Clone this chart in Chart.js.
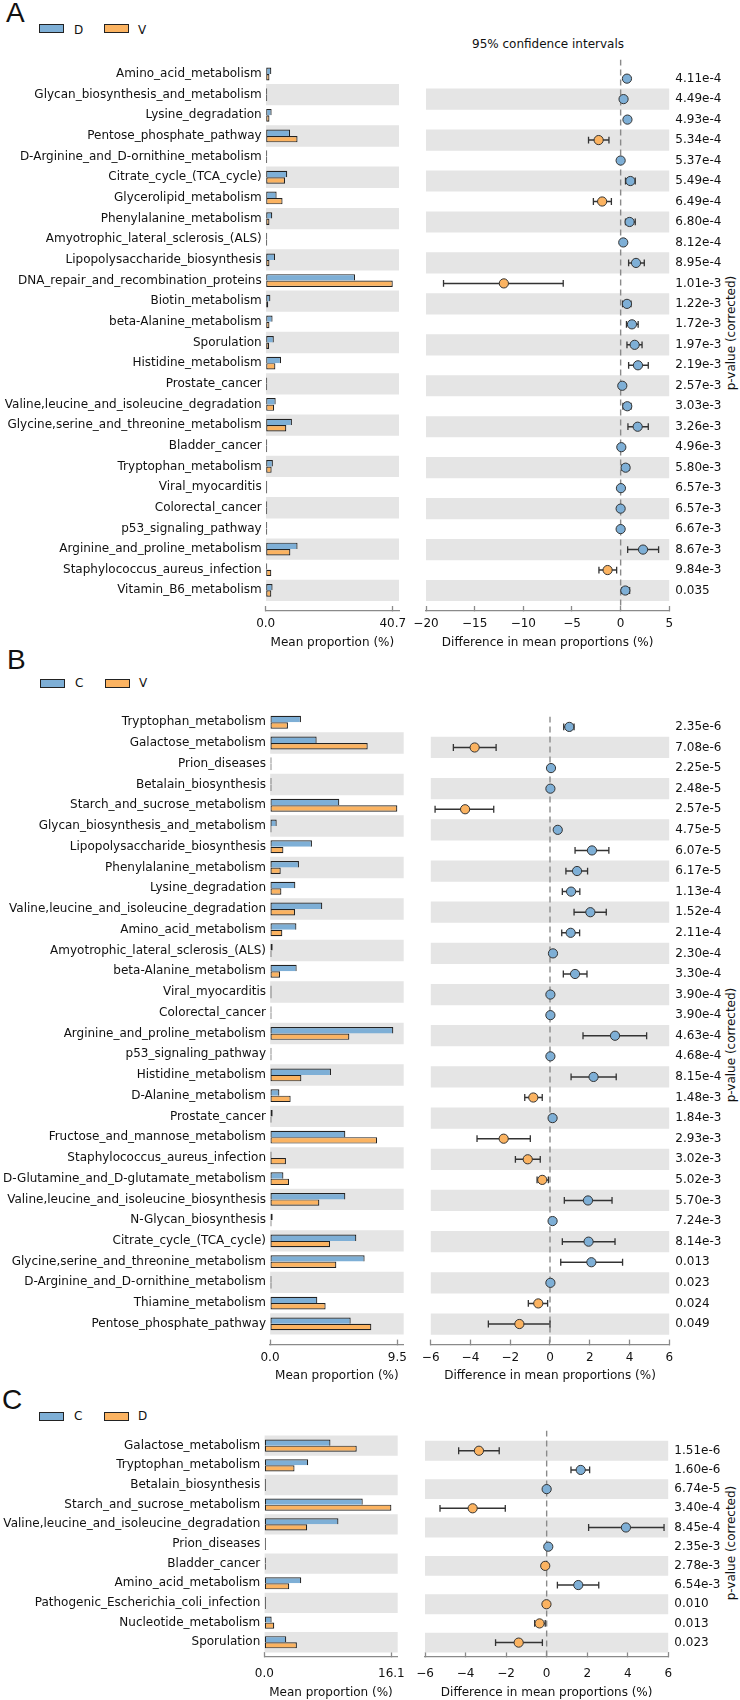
<!DOCTYPE html>
<html>
<head>
<meta charset="utf-8">
<script src="https://cdn.jsdelivr.net/npm/chart.js@4.4.1/dist/chart.umd.min.js"></script>
<style>
  html, body { margin: 0; padding: 0; background: #fff; }
  body { width: 740px; height: 1700px; position: relative; overflow: hidden; font-family: 'DejaVu Sans', sans-serif; color: #111; }
  canvas { position: absolute; }
  .letter { position: absolute; font-family: 'Liberation Sans', sans-serif; font-size: 28px; line-height: 28px; color: #111; }
  .txt { position: absolute; font-size: 12px; line-height: 14px; white-space: nowrap; }
  .swatch { position: absolute; width: 25px; height: 9px; box-sizing: border-box; border: 1.3px solid #222; }
  .ylab { position: absolute; font-size: 12px; line-height: 14px; white-space: nowrap; transform: translate(-50%, -50%) rotate(-90deg); }
</style>
</head>
<body>

<div class="letter" style="left:6px;top:-1px">A</div>
<div class="swatch" style="left:39px;top:24px;background:#7eafd6"></div>
<div class="txt" style="left:74px;top:22.5px">D</div>
<div class="swatch" style="left:104px;top:24px;background:#fbb361"></div>
<div class="txt" style="left:138px;top:22.5px">V</div>
<div class="txt" style="left:548px;top:36.5px;transform:translateX(-50%)">95% confidence intervals</div>
<div class="ylab" style="left:731px;top:333px">p-value (corrected)</div>

<div class="letter" style="left:7px;top:646px">B</div>
<div class="swatch" style="left:40px;top:678.5px;background:#7eafd6"></div>
<div class="txt" style="left:75px;top:676px">C</div>
<div class="swatch" style="left:105px;top:678.5px;background:#fbb361"></div>
<div class="txt" style="left:139px;top:676px">V</div>
<div class="ylab" style="left:731px;top:1045px">p-value (corrected)</div>

<div class="letter" style="left:2px;top:1386px">C</div>
<div class="swatch" style="left:39px;top:1411.5px;background:#7eafd6"></div>
<div class="txt" style="left:74px;top:1409px">C</div>
<div class="swatch" style="left:104px;top:1411.5px;background:#fbb361"></div>
<div class="txt" style="left:138px;top:1409px">D</div>
<div class="ylab" style="left:731px;top:1543px">p-value (corrected)</div>

<script>
// ---- Panel A: D vs V ----
const catsA = ['Amino_acid_metabolism', 'Glycan_biosynthesis_and_metabolism', 'Lysine_degradation',
  'Pentose_phosphate_pathway', 'D-Arginine_and_D-ornithine_metabolism', 'Citrate_cycle_(TCA_cycle)',
  'Glycerolipid_metabolism', 'Phenylalanine_metabolism', 'Amyotrophic_lateral_sclerosis_(ALS)',
  'Lipopolysaccharide_biosynthesis', 'DNA_repair_and_recombination_proteins', 'Biotin_metabolism',
  'beta-Alanine_metabolism', 'Sporulation', 'Histidine_metabolism', 'Prostate_cancer',
  'Valine,leucine_and_isoleucine_degradation', 'Glycine,serine_and_threonine_metabolism', 'Bladder_cancer',
  'Tryptophan_metabolism', 'Viral_myocarditis', 'Colorectal_cancer', 'p53_signaling_pathway',
  'Arginine_and_proline_metabolism', 'Staphylococcus_aureus_infection', 'Vitamin_B6_metabolism'];
const pvalA = ['4.11e-4', '4.49e-4', '4.93e-4', '5.34e-4', '5.37e-4', '5.49e-4', '6.49e-4', '6.80e-4', '8.12e-4',
  '8.95e-4', '1.01e-3', '1.22e-3', '1.72e-3', '1.97e-3', '2.19e-3', '2.57e-3', '3.03e-3', '3.26e-3', '4.96e-3',
  '5.80e-3', '6.57e-3', '6.57e-3', '6.67e-3', '8.67e-3', '9.84e-3', '0.035'];
const meanDA = [1.8, 0.4, 1.9, 7.8, 0.1, 6.9, 3.5, 2.1, 0.3, 3.0, 28.6, 1.5, 2.2, 2.6, 4.9, 0.2, 3.2, 8.4, 0.2, 2.3, 0.1, 0.1, 0.1, 10.2, 0.2, 2.2];
const meanVA = [1.2, 0.3, 1.2, 10.2, 0.1, 6.2, 5.4, 1.2, 0.3, 1.2, 40.7, 0.8, 1.2, 1.1, 3.1, 0.2, 2.7, 6.6, 0.2, 1.9, 0.1, 0.1, 0.1, 7.9, 1.8, 1.8];
const diffA = [0.65, 0.3, 0.7, -2.26, 0.0, 1.0, -1.9, 0.92, 0.27, 1.58, -12.0, 0.65, 1.16, 1.44, 1.78, 0.17, 0.68, 1.75, 0.07, 0.51, 0.03, 0.0, 0.0, 2.3, -1.34, 0.48];
const ciLowA = [0.5, 0.15, 0.55, -3.3, -0.05, 0.5, -2.8, 0.5, 0.15, 0.82, -18.2, 0.2, 0.6, 0.65, 0.82, 0.05, 0.24, 0.75, 0.0, 0.14, 0.0, -0.05, -0.05, 0.72, -2.23, 0.1];
const ciHighA = [0.8, 0.45, 0.85, -1.2, 0.05, 1.5, -0.95, 1.5, 0.4, 2.43, -5.9, 1.06, 1.8, 2.2, 2.84, 0.3, 1.06, 2.84, 0.15, 0.86, 0.08, 0.05, 0.05, 3.9, -0.41, 0.92];
const barTicksA = [0, 40.7];
const diffTicksA = [-20, -15, -10, -5, 0, 5];

// ---- Panel B: C vs V ----
const catsB = ['Tryptophan_metabolism', 'Galactose_metabolism', 'Prion_diseases', 'Betalain_biosynthesis',
  'Starch_and_sucrose_metabolism', 'Glycan_biosynthesis_and_metabolism', 'Lipopolysaccharide_biosynthesis',
  'Phenylalanine_metabolism', 'Lysine_degradation', 'Valine,leucine_and_isoleucine_degradation',
  'Amino_acid_metabolism', 'Amyotrophic_lateral_sclerosis_(ALS)', 'beta-Alanine_metabolism', 'Viral_myocarditis',
  'Colorectal_cancer', 'Arginine_and_proline_metabolism', 'p53_signaling_pathway', 'Histidine_metabolism',
  'D-Alanine_metabolism', 'Prostate_cancer', 'Fructose_and_mannose_metabolism', 'Staphylococcus_aureus_infection',
  'D-Glutamine_and_D-glutamate_metabolism', 'Valine,leucine_and_isoleucine_biosynthesis', 'N-Glycan_biosynthesis',
  'Citrate_cycle_(TCA_cycle)', 'Glycine,serine_and_threonine_metabolism', 'D-Arginine_and_D-ornithine_metabolism',
  'Thiamine_metabolism', 'Pentose_phosphate_pathway'];
const pvalB = ['2.35e-6', '7.08e-6', '2.25e-5', '2.48e-5', '2.57e-5', '4.75e-5', '6.07e-5', '6.17e-5', '1.13e-4',
  '1.52e-4', '2.11e-4', '2.30e-4', '3.30e-4', '3.90e-4', '3.90e-4', '4.63e-4', '4.68e-4', '8.15e-4', '1.48e-3',
  '1.84e-3', '2.93e-3', '3.02e-3', '5.02e-3', '5.70e-3', '7.24e-3', '8.14e-3', '0.013', '0.023', '0.024', '0.049'];
const meanCB = [2.31, 3.48, 0.08, 0.03, 5.17, 0.5, 3.13, 2.16, 1.89, 3.9, 1.97, 0.2, 1.99, 0.03, 0.03, 9.2, 0.03, 4.55, 0.7, 0.2, 5.62, 0.07, 1.0, 5.62, 0.2, 6.44, 7.06, 0.02, 3.53, 6.02];
const meanVB = [1.34, 7.29, 0.03, 0.02, 9.5, 0.1, 1.0, 0.8, 0.85, 1.87, 0.92, 0.08, 0.75, 0.02, 0.02, 5.92, 0.02, 2.34, 1.54, 0.05, 7.99, 1.19, 1.42, 3.68, 0.05, 4.48, 4.95, 0.02, 4.15, 7.56];
const diffB = [0.97, -3.79, 0.05, 0.02, -4.27, 0.39, 2.11, 1.36, 1.06, 2.03, 1.04, 0.15, 1.26, 0.02, 0.02, 3.27, 0.02, 2.19, -0.84, 0.13, -2.33, -1.12, -0.39, 1.91, 0.13, 1.94, 2.08, 0.02, -0.59, -1.54];
const ciLowB = [0.69, -4.86, 0.02, 0.0, -5.78, 0.33, 1.26, 0.8, 0.62, 1.21, 0.59, 0.12, 0.67, 0.0, 0.0, 1.66, 0.0, 1.06, -1.27, 0.1, -3.67, -1.74, -0.65, 0.72, 0.1, 0.62, 0.54, 0.0, -1.09, -3.1];
const ciHighB = [1.21, -2.71, 0.08, 0.04, -2.83, 0.45, 2.96, 1.89, 1.5, 2.83, 1.49, 0.18, 1.86, 0.04, 0.04, 4.86, 0.04, 3.33, -0.39, 0.16, -0.99, -0.49, -0.08, 3.12, 0.16, 3.27, 3.65, 0.04, -0.12, 0.0];
const barTicksB = [0, 9.5];
const diffTicksB = [-6, -4, -2, 0, 2, 4, 6];

// ---- Panel C: C vs D ----
const catsC = ['Galactose_metabolism', 'Tryptophan_metabolism', 'Betalain_biosynthesis', 'Starch_and_sucrose_metabolism',
  'Valine,leucine_and_isoleucine_degradation', 'Prion_diseases', 'Bladder_cancer', 'Amino_acid_metabolism',
  'Pathogenic_Escherichia_coli_infection', 'Nucleotide_metabolism', 'Sporulation'];
const pvalC = ['1.51e-6', '1.60e-6', '6.74e-5', '3.40e-4', '8.45e-4', '2.35e-3', '2.78e-3', '6.54e-3', '0.010', '0.013', '0.023'];
const meanCC = [8.38, 5.56, 0.03, 12.47, 9.39, 0.1, 0.08, 4.68, 0.02, 0.93, 2.78];
const meanDC = [11.71, 3.83, 0.02, 16.1, 5.43, 0.05, 0.08, 3.16, 0.02, 1.26, 4.13];
const diffC = [-3.34, 1.68, 0.0, -3.65, 3.91, 0.08, -0.07, 1.56, -0.01, -0.35, -1.38];
const ciLowC = [-4.34, 1.2, -0.02, -5.26, 2.07, 0.06, -0.09, 0.53, -0.03, -0.59, -2.52];
const ciHighC = [-2.34, 2.12, 0.02, -2.04, 5.79, 0.1, -0.05, 2.57, 0.01, -0.07, -0.21];
const barTicksC = [0, 16.1];
const diffTicksC = [-6, -4, -2, 0, 2, 4, 6];

const BLUE = '#7eafd6';
const ORANGE = '#fbb361';
const EDGE = '#222222';
const BAND = '#e5e5e5';
const AXIS = '#8a8a8a';
const AXIS_H = 46;

Chart.defaults.font.family = "'DejaVu Sans', sans-serif";
Chart.defaults.font.size = 12;
Chart.defaults.color = '#111';

function addCanvas(left, top, w, h) {
    const c = document.createElement('canvas');
    c.width = w;
    c.height = h;
    c.style.left = left + 'px';
    c.style.top = top + 'px';
    c.style.width = w + 'px';
    c.style.height = h + 'px';
    document.body.appendChild(c);
    return c.getContext('2d');
}

const minus = v => v < 0 ? '\u2212' + Math.abs(v) : String(v);

function rowAxis(p, rows, labels, position, width, pad) {
    return {
        type: 'linear', position, reverse: true, offset: false, bounds: 'data',
        min: p.yMin, max: p.yMax,
        afterBuildTicks: s => { s.ticks = rows.map(v => ({ value: v })); },
        afterFit: s => { s.width = width; s.paddingTop = 0; s.paddingBottom = 0; },
        grid: { display: false, drawTicks: false },
        border: { display: false },
        ticks: { autoSkip: false, padding: pad, callback: v => labels[v] }
    };
}

function valueAxis(p, min, max, tickVals, fmt, title) {
    return {
        type: 'linear', position: 'bottom', bounds: 'data', min, max,
        afterBuildTicks: s => { s.ticks = tickVals.map(v => ({ value: v })); },
        afterFit: s => { s.height = AXIS_H; s.paddingLeft = 0; s.paddingRight = 0; },
        grid: { display: true, drawOnChartArea: false, drawTicks: true, tickLength: -5, tickColor: AXIS, tickWidth: 1.3 },
        border: { display: true, color: AXIS, width: 1.3 },
        ticks: { autoSkip: false, maxRotation: 0, padding: p.tickPad, callback: fmt },
        title: { display: true, text: title, padding: { top: 0, bottom: p.titlePad } }
    };
}

function buildPanel(p) {
    const n = p.cats.length;
    const rows = p.cats.map((_, i) => i);
    const banded = rows.filter(i => (n - 1 - i) % 2 === 0);
    const canvasTop = Math.floor(p.top);
    const canvasH = Math.ceil(p.bottom - canvasTop) + AXIS_H;
    const padTop = p.top - canvasTop;
    const padBottom = canvasH - AXIS_H - (p.bottom - canvasTop);

    // left: mean proportions
    const barW = Math.ceil(p.barRight) + 20;
    new Chart(addCanvas(0, canvasTop, barW, canvasH), {
        type: 'bar',
        data: {
            datasets: [
                {
                    data: rows.map(i => ({ y: i, x: p.mean1[i] })),
                    backgroundColor: BLUE, borderColor: EDGE, borderWidth: 1.2, borderSkipped: 'bottom',
                    minBarLength: 1.5, categoryPercentage: 0.62, barPercentage: 1, order: 1
                },
                {
                    data: rows.map(i => ({ y: i, x: p.mean2[i] })),
                    backgroundColor: ORANGE, borderColor: EDGE, borderWidth: 1.2, borderSkipped: false,
                    minBarLength: 1.5, categoryPercentage: 0.62, barPercentage: 1, order: 1
                },
                {
                    data: banded.map(i => ({ y: i, x: [0, p.barMax] })),
                    backgroundColor: BAND, borderWidth: 0, grouped: false,
                    categoryPercentage: 1, barPercentage: 1, order: 9
                }
            ]
        },
        options: {
            indexAxis: 'y', responsive: false, devicePixelRatio: 1, animation: false, events: [],
            layout: { padding: { top: padTop, bottom: padBottom, left: 0, right: barW - p.barRight } },
            plugins: { legend: { display: false }, tooltip: { enabled: false } },
            scales: {
                x: valueAxis(p, 0, p.barMax, p.barTicks, v => v.toFixed(1), 'Mean proportion (%)'),
                y: rowAxis(p, rows, p.cats, 'left', p.barLeft, 4)
            }
        }
    });

    // right: difference in mean proportions with 95% CI
    const dotCanvasLeft = Math.floor(p.dotLeft) - 20;
    const dotW = 740 - dotCanvasLeft;
    new Chart(addCanvas(dotCanvasLeft, canvasTop, dotW, canvasH), {
        type: 'bar',
        data: {
            datasets: [
                {
                    type: 'bar', data: banded.map(i => ({ y: i, x: [p.dMin, p.dMax] })),
                    backgroundColor: BAND, borderWidth: 0, grouped: false,
                    categoryPercentage: 1, barPercentage: 1, order: 9
                },
                {
                    type: 'line', data: [{ x: 0, y: p.yMin }, { x: 0, y: p.yMax }],
                    borderColor: AXIS, borderWidth: 1.4, borderDash: [6, 4], pointRadius: 0, order: 8
                },
                {
                    type: 'bar', data: rows.map(i => ({ y: i, x: [p.lo[i], p.hi[i]] })),
                    backgroundColor: '#333', borderWidth: 0, grouped: false, maxBarThickness: 1.5, order: 7
                },
                {
                    type: 'line', showLine: false,
                    data: rows.flatMap(i => [{ x: p.lo[i], y: i }, { x: p.hi[i], y: i }]),
                    pointStyle: 'line', pointRotation: 90, pointRadius: 3.4,
                    pointBorderColor: '#333', pointBorderWidth: 1.3, order: 6
                },
                {
                    type: 'line', showLine: false, clip: false,
                    data: rows.map(i => ({ x: p.diff[i], y: i })),
                    pointRadius: 4.6,
                    pointBackgroundColor: rows.map(i => p.diff[i] < 0 ? ORANGE : BLUE),
                    pointBorderColor: '#333', pointBorderWidth: 1, order: 1
                }
            ]
        },
        options: {
            indexAxis: 'y', responsive: false, devicePixelRatio: 1, animation: false, events: [],
            layout: { padding: { top: padTop, bottom: padBottom, left: p.dotLeft - dotCanvasLeft, right: 0 } },
            plugins: { legend: { display: false }, tooltip: { enabled: false } },
            scales: {
                x: valueAxis(p, p.dMin, p.dMax, p.dTicks, minus, 'Difference in mean proportions (%)'),
                y: rowAxis(p, rows, p.pvals, 'right', 740 - p.dotRight, 6)
            }
        }
    });
}

buildPanel({
    cats: catsA, pvals: pvalA, mean1: meanDA, mean2: meanVA, diff: diffA, lo: ciLowA, hi: ciHighA,
    barTicks: barTicksA, dTicks: diffTicksA,
    top: 54.8, bottom: 611, yMin: -0.93, yMax: 26,
    barLeft: 265.7, barRight: 399, barMax: 42.7,
    dotLeft: 426, dotRight: 669.3, dMin: -20, dMax: 5,
    tickPad: 11.1, titlePad: 7.1
});
buildPanel({
    cats: catsB, pvals: pvalB, mean1: meanCB, mean2: meanVB, diff: diffB, lo: ciLowB, hi: ciHighB,
    barTicks: barTicksB, dTicks: diffTicksB,
    top: 711.9, bottom: 1344.6, yMin: -0.5, yMax: 30,
    barLeft: 270, barRight: 403.7, barMax: 9.975,
    dotLeft: 430.7, dotRight: 669.3, dMin: -6, dMax: 6,
    tickPad: 11.1, titlePad: 7.1
});
buildPanel({
    cats: catsC, pvals: pvalC, mean1: meanCC, mean2: meanDC, diff: diffC, lo: ciLowC, hi: ciHighC,
    barTicks: barTicksC, dTicks: diffTicksC,
    top: 1425, bottom: 1657, yMin: -1.05, yMax: 10.75,
    barLeft: 264.3, barRight: 397.7, barMax: 16.9,
    dotLeft: 425, dotRight: 668.3, dMin: -6, dMax: 6,
    tickPad: 14.5, titlePad: 2.8
});
</script>
</body>
</html>
